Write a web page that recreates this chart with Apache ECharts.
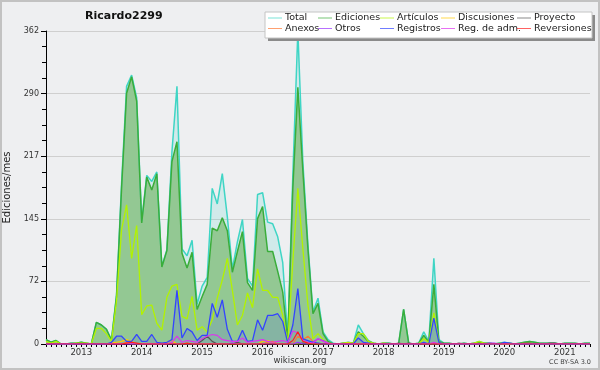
<!DOCTYPE html>
<html><head><meta charset="utf-8">
<script src="https://cdn.jsdelivr.net/npm/echarts@6/dist/echarts.min.js"></script>
<style>html,body{margin:0;padding:0;background:#eeeff1}#c{width:600px;height:370px}</style>
</head><body><div id="c"></div>
<script>
// first month shown: 2012-06, last: 2021-06 (109 months)
const firstYear = 2012, firstMonth = 6, monthCount = 109;
const yearLabels = ['2013','2014','2015','2016','2017','2018','2019','2020','2021'];
const yTicks = [0, 72, 145, 217, 290, 362];

const total = [
  5,2,4,0,0,1,1,2,1,0,25,22,
  17,5,57,185,298,311,285,142,195,188,199,90,
  109,222,298,110,102,120,46,67,77,180,162,197,
  147,87,118,144,76,67,173,175,141,139,124,94,
  6,195,362,210,115,37,53,14,5,1,0,1,
  2,1,22,12,4,1,0,1,1,0,0,40,
  1,0,1,14,3,99,5,1,1,0,0,1,
  0,1,3,1,1,0,1,2,1,0,1,2,
  3,2,1,1,1,1,0,1,1,1,0,1,
  1];
const ediciones = [
  5,2,4,0,0,1,1,2,1,0,25,22,
  17,4,55,180,290,309,281,140,193,178,197,89,
  108,211,234,105,88,106,40,55,69,134,131,146,
  131,83,107,130,71,62,145,159,107,107,84,60,
  4,180,297,200,110,35,47,12,3,0,0,1,
  1,1,14,9,3,1,0,1,1,0,0,40,
  1,0,1,10,2,69,3,1,1,0,0,1,
  0,1,2,1,1,0,1,1,1,0,1,2,
  3,2,1,1,1,1,0,1,1,1,0,1,
  1];
const articulos = [
  3,1,3,0,0,0,1,1,1,0,18,18,
  12,3,50,132,161,99,137,34,44,45,24,16,
  54,67,69,32,29,55,16,20,14,28,53,74,
  99,62,22,33,59,42,87,62,62,54,54,33,
  1,95,180,110,45,6,12,5,1,0,0,1,
  2,1,12,12,3,1,0,1,0,0,0,0,
  0,0,0,6,2,36,2,0,0,0,0,0,
  0,1,3,1,0,0,0,0,0,0,0,1,
  1,0,0,0,0,0,0,0,0,0,0,0,
  0];
const discusiones = [
  0,0,0,0,0,0,0,0,0,0,0,0,
  0,1,2,3,5,3,0,0,0,0,0,0,
  2,4,0,0,0,0,0,0,0,0,0,0,
  0,0,0,0,0,0,0,3,4,2,0,0,
  0,0,0,0,0,0,0,0,0,0,0,0,
  1,0,0,0,0,0,0,0,0,0,0,0,
  0,0,0,0,0,0,0,0,0,0,0,0,
  0,0,0,0,0,0,0,0,0,0,0,0,
  0,0,0,0,0,0,0,0,0,0,0,0,
  0];
const proyecto = [
  0,0,0,0,0,0,0,0,0,0,0,0,
  0,0,0,0,0,0,0,0,0,0,0,0,
  0,0,0,0,0,0,0,4,9,3,0,0,
  0,0,2,0,0,0,0,0,0,0,0,0,
  0,0,0,1,0,0,0,0,0,0,0,0,
  0,0,0,0,0,0,0,0,0,0,1,0,
  1,0,0,0,0,0,0,0,0,0,1,0,
  0,0,0,0,0,0,0,0,0,0,0,1,
  1,0,0,0,1,1,0,0,0,0,0,0,
  0];
const anexos = [
  0,0,0,0,0,0,0,0,0,0,0,0,
  0,0,0,0,2,0,0,0,0,0,0,0,
  0,1,0,0,0,0,0,0,0,0,0,0,
  0,0,0,0,0,0,0,0,2,3,0,0,
  0,0,9,5,9,3,0,0,0,0,0,0,
  0,0,0,0,0,0,0,0,0,0,0,0,
  0,0,0,0,0,0,0,0,0,0,0,0,
  0,0,0,0,0,0,0,0,0,0,0,0,
  0,0,0,0,0,0,0,0,0,0,0,0,
  0];
const otros = [
  0,0,0,0,0,0,0,0,0,0,0,0,
  0,0,0,0,0,0,0,0,0,0,0,0,
  0,0,0,0,0,0,0,0,0,0,0,0,
  0,1,0,0,0,0,0,0,0,0,0,0,
  0,0,2,0,0,2,6,4,1,0,0,0,
  0,0,0,0,0,0,0,0,0,0,0,0,
  0,0,0,0,0,0,0,0,0,0,0,0,
  0,0,0,0,1,1,0,0,0,0,0,0,
  0,0,0,0,0,0,0,0,0,0,0,0,
  0];
const registros = [
  0,0,0,0,0,0,0,0,0,0,0,0,
  0,2,9,9,3,3,11,3,3,11,2,1,
  2,5,62,7,18,14,4,10,10,47,31,51,
  17,3,3,16,3,4,28,16,33,33,35,26,
  1,22,64,6,4,2,1,0,0,0,0,0,
  0,0,7,2,1,0,0,0,0,0,0,0,
  0,0,0,2,0,30,2,0,0,0,0,0,
  0,0,0,0,0,0,0,2,1,0,0,0,
  0,0,0,0,0,0,0,0,0,0,0,0,
  0];
const regAdm = [
  0,0,0,0,0,0,0,0,0,0,0,0,
  0,0,0,0,0,0,0,0,0,0,0,0,
  0,2,9,2,4,3,2,6,9,11,10,5,
  4,3,3,7,2,3,4,5,3,2,3,4,
  2,15,13,4,2,1,6,3,1,0,0,0,
  0,0,0,0,0,0,0,0,0,0,0,0,
  0,0,0,0,0,2,0,0,0,0,0,0,
  0,0,0,0,0,0,0,0,0,0,0,0,
  0,0,0,0,0,0,0,0,0,0,0,0,
  0];
const reversiones = [
  0,0,0,0,0,0,0,0,0,0,0,0,
  0,0,0,0,1,2,1,0,0,0,0,0,
  0,0,0,0,1,0,0,0,0,0,0,0,
  0,0,0,0,0,0,0,0,0,0,0,0,
  0,4,14,3,1,0,0,0,0,0,0,0,
  0,0,0,0,0,0,0,0,0,0,0,0,
  0,0,0,0,0,0,0,0,0,0,0,0,
  0,0,0,0,0,0,0,0,0,0,0,0,
  0,0,0,0,0,0,0,0,0,0,0,0,
  0];

const months = [];
for (let i = 0; i < monthCount; i++) {
  const m = firstMonth - 1 + i;
  const y = firstYear + Math.floor(m / 12);
  const mm = (m % 12) + 1;
  months.push(y + '-' + (mm < 10 ? '0' : '') + mm);
}

const FONT = 'DejaVu Sans';
const seriesDefs = [
  {name:'Total', data:total, color:'#3fd5c5', w:1.5, area:'rgba(64,214,198,0.16)'},
  {name:'Ediciones', data:ediciones, color:'#3aad3a', w:1.5, area:'#93c893'},
  {name:'Artículos', data:articulos, color:'#b2f200', w:1.3},
  {name:'Discusiones', data:discusiones, color:'#ffc800', w:1.2},
  {name:'Proyecto', data:proyecto, color:'#555555', w:1.2},
  {name:'Anexos', data:anexos, color:'#ff7733', w:1.2},
  {name:'Otros', data:otros, color:'#9933ff', w:1.2},
  {name:'Registros', data:registros, color:'#3344ff', w:1.3, area:'rgba(51,68,255,0.15)'},
  {name:'Reg. de adm.', data:regAdm, color:'#dd33ee', w:1.2},
  {name:'Reversiones', data:reversiones, color:'#ff2020', w:1.2}
];
const series = seriesDefs.map(d => ({
  name: d.name, type: 'line', data: d.data, symbol: 'none', smooth: false,
  color: d.color,
  lineStyle: {color: d.color, width: d.w},
  areaStyle: d.area ? {color: d.area, opacity: 1} : undefined,
  emphasis: {disabled: true}, animation: false
}));

const legendPos = [
  ['Total',268,13],['Ediciones',318,13],['Artículos',380,13],['Discusiones',441,13],['Proyecto',517,13],
  ['Anexos',268,23.5],['Otros',318,23.5],['Registros',380,23.5],['Reg. de adm.',441,23.5],['Reversiones',517,23.5]
];
const legends = legendPos.map(p => ({
  data:[p[0]], left:p[1], top:p[2], padding:0, itemGap:0, z:12,
  icon:'rect', itemWidth:14, itemHeight:1, selectedMode:false,
  itemStyle:{opacity:0.7},
  textStyle:{fontFamily:FONT, fontSize:9.5, color:'#222', padding:[0,0,0,-2]}
}));

const chart = echarts.init(document.getElementById('c'), null, {renderer:'canvas'});
chart.setOption({
  backgroundColor:'#eeeff1',
  animation:false,
  title:{text:'Ricardo2299', left:85, top:10.5, padding:0,
    textStyle:{fontFamily:FONT, fontSize:11, fontWeight:'bold', color:'#111'}},
  legend: legends,
  grid:{left:46, right:10, top:31, bottom:26, containLabel:false, outerBoundsMode:'none'},
  xAxis:{type:'category', data:months, boundaryGap:false,
    axisLine:{lineStyle:{color:'#000', width:1}},
    axisTick:{interval:0, length:3, lineStyle:{color:'#000'}},
    axisLabel:{interval:(i,v)=>v.endsWith('-01') && yearLabels.includes(v.slice(0,4)),
      formatter:v=>v.slice(0,4), fontFamily:FONT, fontSize:8.5, color:'#333', margin:4},
    splitLine:{show:false}},
  yAxis:{type:'value', min:0, max:362, interval:72.4,
    name:'Ediciones/mes', nameLocation:'middle', nameRotate:90, nameGap:34,
    nameTextStyle:{fontFamily:FONT, fontSize:10, color:'#222'},
    axisLine:{show:true, lineStyle:{color:'#000', width:1}},
    axisTick:{show:true, length:5, lineStyle:{color:'#000'}},
    minorTick:{show:true, splitNumber:4, length:4, lineStyle:{color:'#000'}},
    axisLabel:{formatter:v=>String(yTicks.reduce((a,b)=>Math.abs(b-v)<Math.abs(a-v)?b:a)),
      fontFamily:FONT, fontSize:8, color:'#333', margin:7},
    splitLine:{show:true, lineStyle:{color:'#cfcfcf', width:1}}},
  series: series,
  graphic:[
    {type:'rect', z:10, shape:{x:268, y:15, width:327, height:26}, style:{fill:'#8a8a8a'}},
    {type:'rect', z:11, shape:{x:265, y:12, width:327, height:26}, style:{fill:'#ffffff', stroke:'#c4c4c4', lineWidth:1}},
    {type:'text', left:'center', top:356, style:{text:'wikiscan.org', font:'8.5px "DejaVu Sans"', fill:'#333'}},
    {type:'text', right:9, top:359, style:{text:'CC BY-SA 3.0', font:'6.5px "DejaVu Sans"', fill:'#444'}},
    {type:'rect', z:20, shape:{x:1, y:1, width:598, height:368}, style:{fill:'none', stroke:'#c2c2c2', lineWidth:2}}
  ]
});
</script></body></html>
